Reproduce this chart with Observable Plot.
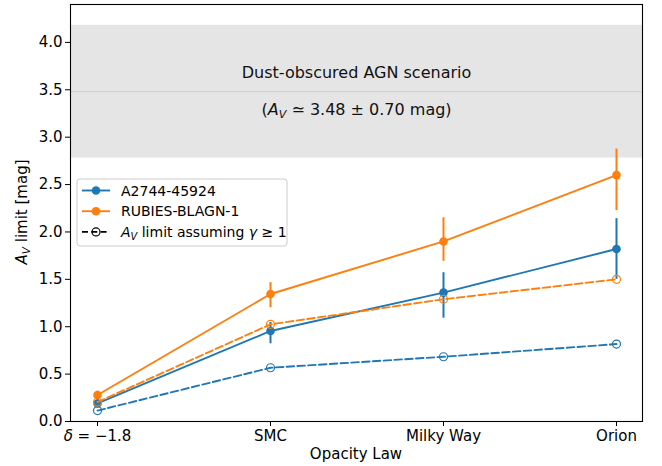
<!DOCTYPE html>
<html>
<head>
<meta charset="utf-8">
<script src="https://cdn.jsdelivr.net/npm/d3@7"></script>
<script src="https://cdn.jsdelivr.net/npm/@observablehq/plot@0.6"></script>
<style>
  html, body { margin: 0; padding: 0; background: white; }
  svg { font-family: "DejaVu Sans", sans-serif; }
</style>
</head>
<body>
<div id="chart"></div>
<script>
// ---- data ----
const categories = ["δ = −1.8", "SMC", "Milky Way", "Orion"];
const a2744 = [0.19, 0.955, 1.36, 1.82];
const a2744ErrLo = [0.04, 0.135, 0.27, 0.32];
const a2744ErrHi = [0.04, 0.09, 0.21, 0.32];
const rubies = [0.28, 1.345, 1.90, 2.60];
const rubiesErrLo = [0.04, 0.145, 0.21, 0.375];
const rubiesErrHi = [0.04, 0.12, 0.25, 0.275];
const a2744Limit = [0.115, 0.567, 0.683, 0.817];
const rubiesLimit = [0.205, 1.025, 1.29, 1.50];
const agnAv = 3.48;
const agnAvErr = 0.70;
const yTicks = [0, 0.5, 1, 1.5, 2, 2.5, 3, 3.5, 4];

const BLUE = "#1f77b4", ORANGE = "#ff7f0e";
const DASH = "7.5,3.3";

const rows = (vals, lo, hi) => categories.map((c, i) => ({
  cat: c, v: vals[i],
  lo: lo ? vals[i] - lo[i] : null,
  hi: hi ? vals[i] + hi[i] : null
}));
const aRows = rows(a2744, a2744ErrLo, a2744ErrHi);
const rRows = rows(rubies, rubiesErrLo, rubiesErrHi);
const aLim = rows(a2744Limit);
const rLim = rows(rubiesLimit);
const band = [{y1: agnAv - agnAvErr, y2: agnAv + agnAvErr}];

const chart = Plot.plot({
  width: 662, height: 466,
  marginLeft: 70, marginRight: 20, marginTop: 4, marginBottom: 45,
  style: {fontFamily: "DejaVu Sans", fontSize: "15px", background: "white", color: "black"},
  x: {type: "point", domain: categories, padding: 0.15},
  y: {domain: [0, 4.4]},
  marks: [
    Plot.rect(band, {y1: "y1", y2: "y2", fill: "#e5e5e5"}),
    Plot.ruleY([agnAv], {stroke: "#d2d2d2", strokeWidth: 1.2}),
    Plot.text(["Dust-obscured AGN scenario"], {y: agnAv, text: d => d, dy: -19, fontSize: 16, fill: "#111"}),
    Plot.text(["(A_V ≃ 3.48 ± 0.70 mag)"], {y: agnAv, text: d => d, dy: 18, fontSize: 16, fill: "#111"}),
    // A2744
    Plot.ruleX(aRows, {x: "cat", y1: "lo", y2: "hi", stroke: BLUE, strokeWidth: 2}),
    Plot.line(aRows, {x: "cat", y: "v", stroke: BLUE, strokeWidth: 1.9}),
    Plot.dot(aRows, {x: "cat", y: "v", r: 4.3, fill: BLUE}),
    // RUBIES
    Plot.ruleX(rRows, {x: "cat", y1: "lo", y2: "hi", stroke: ORANGE, strokeWidth: 2}),
    Plot.line(rRows, {x: "cat", y: "v", stroke: ORANGE, strokeWidth: 1.9}),
    Plot.dot(rRows, {x: "cat", y: "v", r: 4.3, fill: ORANGE}),
    // limits
    Plot.line(aLim, {x: "cat", y: "v", stroke: BLUE, strokeWidth: 1.9, strokeDasharray: DASH}),
    Plot.dot(aLim, {x: "cat", y: "v", r: 4, stroke: BLUE, fill: "none", strokeWidth: 1.2}),
    Plot.line(rLim, {x: "cat", y: "v", stroke: ORANGE, strokeWidth: 1.9, strokeDasharray: DASH}),
    Plot.dot(rLim, {x: "cat", y: "v", r: 4, stroke: ORANGE, fill: "none", strokeWidth: 1.2}),
    Plot.axisY({ticks: yTicks, tickFormat: d3.format(".1f"), tickSize: 5, tickPadding: 3, label: null, fontSize: 15, stroke: "#000"}),
    Plot.axisX({tickSize: 5, tickPadding: 4, label: null, fontSize: 15}),
    Plot.frame({stroke: "#000", strokeWidth: 1.1})
  ]
});
document.getElementById("chart").appendChild(chart);

// ---- rich text helpers ----
const NS = "http://www.w3.org/2000/svg";
function rich(el, parts, fs) {
  while (el.firstChild) el.removeChild(el.firstChild);
  let shift = 0;
  for (const p of parts) {
    const ts = document.createElementNS(NS, "tspan");
    ts.textContent = p.t;
    if (p.i) ts.setAttribute("font-style", "italic");
    const target = p.sub ? 0.22 * fs : 0;
    const dy = target - shift;
    if (dy) ts.setAttribute("dy", dy);
    if (p.sub) ts.setAttribute("font-size", fs * 0.7);
    shift = target;
    el.appendChild(ts);
  }
}
const svg = d3.select(chart.tagName === "svg" ? chart : chart.querySelector("svg"));
svg.selectAll("text").each(function() {
  const t = this.textContent;
  if (t === "δ = −1.8") rich(this, [{t: "δ", i: true}, {t: " = −1.8"}], 15);
  if (t === "(A_V ≃ 3.48 ± 0.70 mag)") rich(this, [{t: "("}, {t: "A", i: true}, {t: "V", i: true, sub: true}, {t: " ≃ 3.48 ± 0.70 mag)"}], 16);
});

// axis labels
const yl = svg.append("text").attr("transform", "translate(27,212) rotate(-90)")
  .attr("text-anchor", "middle").attr("font-size", 15).attr("fill", "black").node();
rich(yl, [{t: "A", i: true}, {t: "V", i: true, sub: true}, {t: " limit [mag]"}], 15);
svg.append("text").attr("x", 356).attr("y", 459).attr("text-anchor", "middle")
  .attr("font-size", 15).attr("fill", "black").text("Opacity Law");

// legend
const lg = svg.append("g").attr("text-anchor", "start");
lg.append("rect").attr("x", 77).attr("y", 179).attr("width", 210).attr("height", 67)
  .attr("rx", 3).attr("fill", "white").attr("fill-opacity", 0.8).attr("stroke", "#cccccc");
const entries = [
  {color: BLUE, dash: null, open: false, parts: [{t: "A2744-45924"}]},
  {color: ORANGE, dash: null, open: false, parts: [{t: "RUBIES-BLAGN-1"}]},
  {color: "black", dash: "6,3.3", open: true, parts: [{t: "A", i: true}, {t: "V", i: true, sub: true}, {t: " limit assuming "}, {t: "γ", i: true}, {t: " ≥ 1"}]}
];
entries.forEach((e, i) => {
  const y = 190.5 + i * 20.7;
  lg.append("line").attr("x1", 82).attr("x2", 110).attr("y1", y).attr("y2", y)
    .attr("stroke", e.color).attr("stroke-width", 1.9).attr("stroke-dasharray", e.dash);
  lg.append("circle").attr("cx", 96).attr("cy", y).attr("r", e.open ? 4 : 4.3)
    .attr("fill", e.open ? "none" : e.color).attr("stroke", e.open ? e.color : "none").attr("stroke-width", 1.2);
  const t = lg.append("text").attr("x", 121).attr("y", y + 5).attr("text-anchor", "start")
    .attr("font-size", 14).attr("fill", "black").node();
  rich(t, e.parts, 14);
});
</script>
</body>
</html>
